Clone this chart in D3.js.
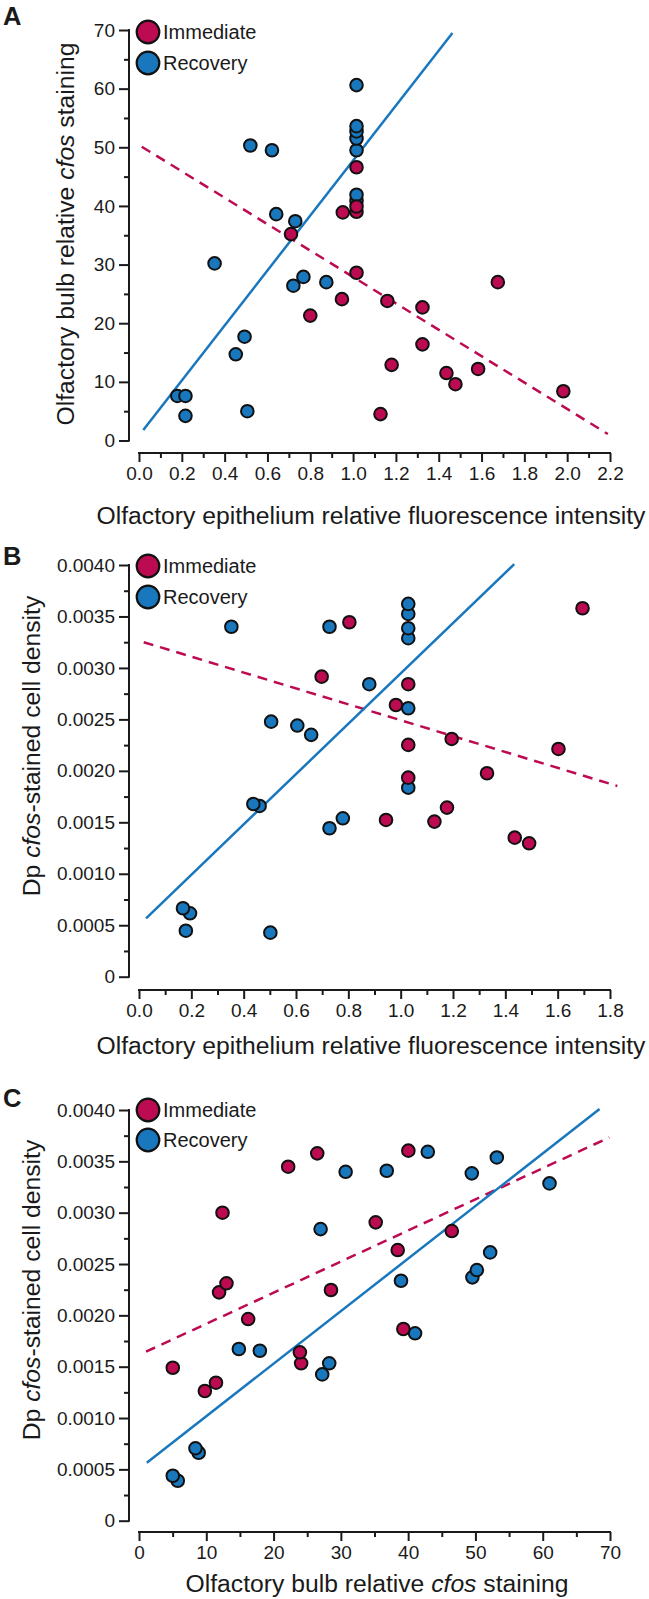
<!DOCTYPE html>
<html>
<head>
<meta charset="utf-8">
<script src="https://cdn.jsdelivr.net/npm/d3@7"></script>
<style>
  html, body { margin: 0; padding: 0; background: #fff; }
  svg text { font-family: "Liberation Sans", Arial, sans-serif; fill: #1a1a1a; }
</style>
</head>
<body>
<svg id="chart" width="649" height="1599"></svg>
<script>
// ---------------- DATA ----------------
// Panel A: x = OE relative fluorescence, y = OB relative cfos staining
const aImmX = [0.71, 1.016, 1.676, 0.948, 0.80, 1.16, 1.324, 1.324, 1.18, 1.436, 1.478, 1.584, 1.982, 1.128, 1.016, 1.016, 1.016, 0.952];
const aImmY = [35.2, 28.6, 27.0, 24.1, 21.3, 23.8, 22.7, 16.4, 12.9, 11.5, 9.6, 12.2, 8.4, 4.5, 46.6, 39.9, 39.0, 38.9];
const aRecX = [0.52, 0.621, 0.641, 0.73, 0.353, 0.721, 0.768, 0.875, 0.452, 0.493, 0.179, 0.217, 0.217, 0.506, 1.016, 1.016, 1.016, 1.016, 1.016, 1.016, 1.016];
const aRecY = [50.3, 49.5, 38.6, 37.4, 30.2, 26.4, 27.9, 27.0, 14.7, 17.7, 7.6, 7.6, 4.2, 5.0, 60.6, 53.6, 52.7, 51.5, 49.5, 41.9, 40.9];
const aRecFitX = [0.02, 1.464], aRecFitY = [1.8, 69.5];
const aImmFitX = [0.013, 2.19], aImmFitY = [50.1, 1.1];

// Panel B: x = OE relative fluorescence, y = Dp cfos-stained cell density
const bImmX = [0.698, 0.804, 1.029, 0.982, 1.195, 1.603, 1.029, 1.029, 1.33, 1.695, 1.177, 1.129, 0.944, 1.436, 1.491];
const bImmY = [0.002915, 0.003444, 0.002842, 0.00264, 0.00231, 0.002213, 0.002252, 0.001934, 0.001977, 0.00358, 0.001643, 0.001507, 0.001523, 0.001351, 0.001296];
const bRecX = [0.353, 0.728, 1.029, 1.029, 1.029, 1.029, 0.88, 1.029, 0.505, 0.605, 0.658, 0.437, 0.461, 1.029, 0.728, 0.779, 0.168, 0.195, 0.179, 0.502];
const bRecY = [0.0034, 0.0034, 0.003622, 0.003525, 0.003386, 0.003289, 0.002842, 0.002608, 0.002478, 0.00244, 0.00235, 0.001678, 0.001659, 0.001837, 0.001442, 0.001539, 0.000665, 0.000616, 0.000447, 0.000428];
const bRecFitX = [0.027, 1.434], bRecFitY = [0.000567, 0.004008];
const bImmFitX = [0.018, 1.828], bImmFitY = [0.00325, 0.001853];

// Panel C: x = OB relative cfos staining, y = Dp cfos-stained cell density
const cImmX = [22.17, 26.49, 12.41, 11.9, 13.0, 16.22, 23.91, 24.1, 40.03, 35.18, 46.49, 38.45, 28.53, 39.29, 5.02, 9.79, 11.44];
const cImmY = [0.003448, 0.003578, 0.0030, 0.002224, 0.002312, 0.001964, 0.00164, 0.001533, 0.003604, 0.002906, 0.002821, 0.002636, 0.002247, 0.001867, 0.00149, 0.001263, 0.001344];
const cRecX = [26.99, 14.84, 17.96, 30.71, 36.82, 42.92, 49.46, 53.18, 61.01, 52.19, 50.21, 49.55, 38.94, 41.03, 28.27, 27.23, 8.39, 8.87, 5.02, 5.76];
const cRecY = [0.00284, 0.001672, 0.001655, 0.003398, 0.003408, 0.003593, 0.003383, 0.003538, 0.003285, 0.002613, 0.002441, 0.00237, 0.002337, 0.001825, 0.001533, 0.001425, 0.000705, 0.000662, 0.000438, 0.000389];
const cRecFitX = [1.16, 68.45], cRecFitY = [0.000565, 0.004009];
const cImmFitX = [1.04, 69.9], cImmFitY = [0.001646, 0.003733];

// Axis tick values / labels
const aXTicks = [0, 0.2, 0.4, 0.6, 0.8, 1.0, 1.2, 1.4, 1.6, 1.8, 2.0, 2.2];
const aXMinor = [0.1, 0.3, 0.5, 0.7, 0.9, 1.1, 1.3, 1.5, 1.7, 1.9, 2.1];
const aYTicks = [0, 10, 20, 30, 40, 50, 60, 70];
const aYMinor = [5, 15, 25, 35, 45, 55, 65];
const bXTicks = [0, 0.2, 0.4, 0.6, 0.8, 1.0, 1.2, 1.4, 1.6, 1.8];
const bXMinor = [0.1, 0.3, 0.5, 0.7, 0.9, 1.1, 1.3, 1.5, 1.7];
const densTicks = [0, 0.0005, 0.0010, 0.0015, 0.0020, 0.0025, 0.0030, 0.0035, 0.0040];
const densMinor = [0.00025, 0.00075, 0.00125, 0.00175, 0.00225, 0.00275, 0.00325, 0.00375];
const cXTicks = [0, 10, 20, 30, 40, 50, 60, 70];
const cXMinor = [5, 15, 25, 35, 45, 55, 65];

const seriesNames = ["Immediate", "Recovery"];
const panelLetters = ["A", "B", "C"];

// ---------------- STYLE ----------------
const RED = "#BD0B52";
const BLUE = "#1877BD";
const svg = d3.select("#chart");

function fmtDens(d) { return d === 0 ? "0" : d3.format(".4f")(d); }

function panel(cfg) {
  const g = svg.append("g");
  const x = d3.scaleLinear().domain(cfg.xDomain).range([139, 610]);
  const y = d3.scaleLinear().domain(cfg.yDomain).range([cfg.y0, cfg.yTop]);

  // y axis
  g.append("g").attr("transform", `translate(129,0)`)
    .call(d3.axisLeft(y).tickValues(cfg.yTicks).tickSize(10).tickPadding(4).tickFormat(cfg.yFmt));
  g.append("g").attr("transform", `translate(129,0)`)
    .call(d3.axisLeft(y).tickValues(cfg.yMinor).tickSize(5).tickFormat(""));
  // x axis
  g.append("g").attr("transform", `translate(0,${cfg.xAxisY})`)
    .call(d3.axisBottom(x).tickValues(cfg.xTicks).tickSize(9).tickPadding(5).tickFormat(cfg.xFmt));
  g.append("g").attr("transform", `translate(0,${cfg.xAxisY})`)
    .call(d3.axisBottom(x).tickValues(cfg.xMinor).tickSize(5).tickFormat(""));
  g.selectAll(".domain").remove();
  g.selectAll(".tick line").attr("stroke", "#1a1a1a").attr("stroke-width", 2);
  g.selectAll(".tick text").attr("font-size", 19).attr("fill", "#1a1a1a")
    .attr("font-family", '"Liberation Sans", Arial, sans-serif');
  g.append("line").attr("x1", 129).attr("x2", 129).attr("y1", y(cfg.yDomain[1]) - 1).attr("y2", y(cfg.yDomain[0]) + 1)
    .attr("stroke", "#1a1a1a").attr("stroke-width", 2);
  g.append("line").attr("x1", x(cfg.xDomain[0]) - 1).attr("x2", x(cfg.xDomain[1]) + 1).attr("y1", cfg.xAxisY).attr("y2", cfg.xAxisY)
    .attr("stroke", "#1a1a1a").attr("stroke-width", 2);

  // fit lines
  const line = d3.line().x(d => x(d[0])).y(d => y(d[1]));
  g.append("path").datum(d3.zip(cfg.immFitX, cfg.immFitY)).attr("d", line)
    .attr("fill", "none").attr("stroke", RED).attr("stroke-width", 2.5).attr("stroke-dasharray", "10,7");
  g.append("path").datum(d3.zip(cfg.recFitX, cfg.recFitY)).attr("d", line)
    .attr("fill", "none").attr("stroke", BLUE).attr("stroke-width", 2.5);

  // points
  const imm = d3.zip(cfg.immX, cfg.immY).sort((a, b) => a[1] - b[1]);
  const rec = d3.zip(cfg.recX, cfg.recY).sort((a, b) => a[1] - b[1]);
  g.append("g").selectAll("circle").data(rec).join("circle")
    .attr("cx", d => x(d[0])).attr("cy", d => y(d[1])).attr("r", 6.3)
    .attr("fill", BLUE).attr("stroke", "#111").attr("stroke-width", 2);
  g.append("g").selectAll("circle").data(imm).join("circle")
    .attr("cx", d => x(d[0])).attr("cy", d => y(d[1])).attr("r", 6.3)
    .attr("fill", RED).attr("stroke", "#111").attr("stroke-width", 2);

  // legend
  const legCol = [RED, BLUE];
  seriesNames.forEach((name, i) => {
    const cy = cfg.legY + i * cfg.legStep;
    g.append("circle").attr("cx", 148).attr("cy", cy).attr("r", 11.3)
      .attr("fill", legCol[i]).attr("stroke", "#111").attr("stroke-width", 2.2);
    g.append("text").attr("x", 163).attr("y", cy + 7).attr("font-size", 20).text(name);
  });

  // panel letter
  g.append("text").attr("x", 3).attr("y", cfg.letterY).attr("font-size", 25.5)
    .attr("font-weight", "bold").text(cfg.letter);

  // axis titles
  const xt = g.append("text").attr("x", cfg.xTitleX).attr("y", cfg.xTitleY)
    .attr("text-anchor", "middle").attr("font-size", 24.7);
  cfg.xTitle.forEach(s => xt.append("tspan").attr("font-style", s[1] ? "italic" : "normal").text(s[0]));
  const yt = g.append("text").attr("transform", `translate(${cfg.yTitleX},${cfg.yTitleY}) rotate(-90)`)
    .attr("text-anchor", "middle").attr("font-size", 24.7);
  cfg.yTitle.forEach(s => yt.append("tspan").attr("font-style", s[1] ? "italic" : "normal").text(s[0]));
}

const oeTitle = [["Olfactory epithelium relative fluorescence intensity", false]];
const obTitle = [["Olfactory bulb relative ", false], ["cfos", true], [" staining", false]];
const dpTitle = [["Dp ", false], ["cfos", true], ["-stained cell density", false]];

panel({
  letter: panelLetters[0], letterY: 25,
  xDomain: [0, 2.2], yDomain: [0, 70], y0: 440.5, yTop: 30,
  xTicks: aXTicks, xMinor: aXMinor, yTicks: aYTicks, yMinor: aYMinor,
  xFmt: d3.format(".1f"), yFmt: d3.format("d"), xAxisY: 453,
  immX: aImmX, immY: aImmY, recX: aRecX, recY: aRecY,
  immFitX: aImmFitX, immFitY: aImmFitY, recFitX: aRecFitX, recFitY: aRecFitY,
  legY: 32, legStep: 31,
  xTitle: oeTitle, xTitleX: 371, xTitleY: 524,
  yTitle: obTitle, yTitleX: 74, yTitleY: 234
});
panel({
  letter: panelLetters[1], letterY: 565,
  xDomain: [0, 1.8], yDomain: [0, 0.004], y0: 976.7, yTop: 565,
  xTicks: bXTicks, xMinor: bXMinor, yTicks: densTicks, yMinor: densMinor,
  xFmt: d3.format(".1f"), yFmt: fmtDens, xAxisY: 990,
  immX: bImmX, immY: bImmY, recX: bRecX, recY: bRecY,
  immFitX: bImmFitX, immFitY: bImmFitY, recFitX: bRecFitX, recFitY: bRecFitY,
  legY: 566, legStep: 31,
  xTitle: oeTitle, xTitleX: 371, xTitleY: 1054,
  yTitle: dpTitle, yTitleX: 40, yTitleY: 746
});
panel({
  letter: panelLetters[2], letterY: 1107,
  xDomain: [0, 70], yDomain: [0, 0.004], y0: 1520.7, yTop: 1110,
  xTicks: cXTicks, xMinor: cXMinor, yTicks: densTicks, yMinor: densMinor,
  xFmt: d3.format("d"), yFmt: fmtDens, xAxisY: 1532,
  immX: cImmX, immY: cImmY, recX: cRecX, recY: cRecY,
  immFitX: cImmFitX, immFitY: cImmFitY, recFitX: cRecFitX, recFitY: cRecFitY,
  legY: 1110, legStep: 30,
  xTitle: obTitle, xTitleX: 377, xTitleY: 1592,
  yTitle: dpTitle, yTitleX: 40, yTitleY: 1290
});
</script>
</body>
</html>
